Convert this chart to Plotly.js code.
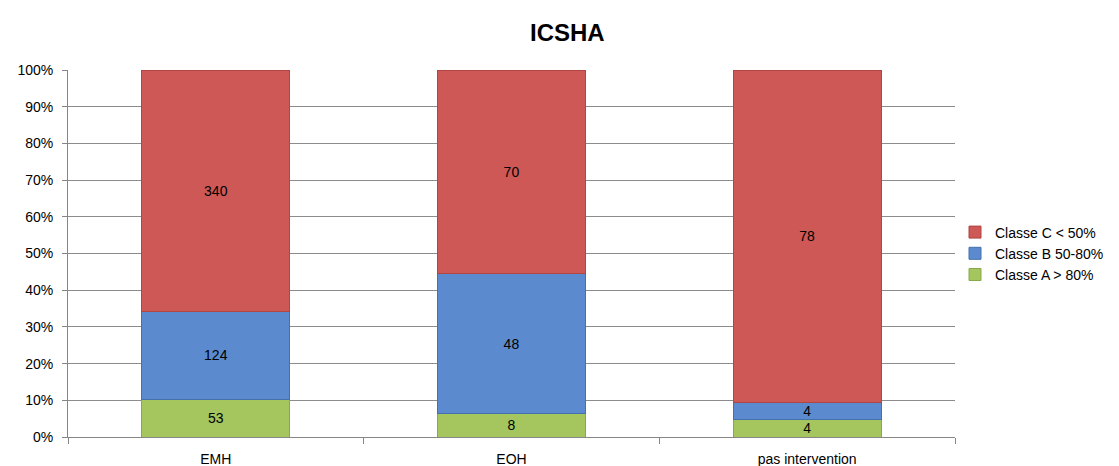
<!DOCTYPE html>
<html>
<head>
<meta charset="utf-8">
<script src="https://cdn.plot.ly/plotly-3.0.1.min.js"></script>
<style>
  body { margin: 0; background: #fff; }
  #chart { width: 1119px; height: 466px; }
</style>
</head>
<body>
<div id="chart"></div>
<script>
// categories and counts per class
const categories = ["EMH", "EOH", "pas intervention"];
const classA = [53, 8, 4];
const classB = [124, 48, 4];
const classC = [340, 70, 78];

const seriesNames = ["Classe A > 80%", "Classe B 50-80%", "Classe C < 50%"];
const seriesColors = ["#A5C65F", "#5B8BCE", "#CD5856"];
const seriesLines = ["#8AA84A", "#4470AE", "#B04542"];

function makeTrace(values, i) {
    return {
        type: 'bar',
        x: categories,
        y: values,
        name: seriesNames[i],
        text: values.map(String),
        textposition: 'inside',
        insidetextanchor: 'middle',
        textangle: 0,
        textfont: { family: 'Liberation Sans, Arial, sans-serif', size: 14, color: '#000' },
        marker: { color: seriesColors[i], line: { color: seriesLines[i], width: 1 } },
        hoverinfo: 'skip'
    };
}

const data = [classA, classB, classC].map(makeTrace);

const layout = {
    width: 1119,
    height: 466,
    barmode: 'stack',
    barnorm: 'percent',
    bargap: 0.5,
    uniformtext: { mode: 'show', minsize: 14 },
    paper_bgcolor: '#fff',
    plot_bgcolor: '#fff',
    margin: { l: 68, r: 164, t: 70, b: 29, autoexpand: false },
    font: { family: 'Liberation Sans, Arial, sans-serif', size: 14, color: '#000' },
    title: {
        text: '<b>ICSHA</b>',
        font: { size: 24, color: '#000' },
        x: 0.507, xanchor: 'center',
        y: 0.93, yanchor: 'middle'
    },
    showlegend: true,
    legend: {
        traceorder: 'reversed',
        x: 1.0, xanchor: 'left',
        y: 0.5, yanchor: 'middle',
        font: { size: 14 },
        itemwidth: 30,
        tracegroupgap: 0
    },
    xaxis: {
        type: 'category',
        showline: true,
        linecolor: '#868686',
        tickson: 'boundaries',
        ticks: 'outside',
        ticklen: 6,
        tickcolor: '#868686',
        showgrid: false,
        ticklabelstandoff: 9,
        tickfont: { size: 14 }
    },
    yaxis: {
        range: [0, 100],
        dtick: 10,
        ticksuffix: '%',
        showline: true,
        linecolor: '#868686',
        ticks: 'outside',
        ticklen: 5,
        tickcolor: '#868686',
        gridcolor: '#8C8C8C',
        gridwidth: 1,
        zeroline: false,
        ticklabelstandoff: 6,
        tickfont: { size: 14 }
    }
};

Plotly.newPlot('chart', data, layout, { displayModeBar: false, staticPlot: true });
</script>
</body>
</html>
